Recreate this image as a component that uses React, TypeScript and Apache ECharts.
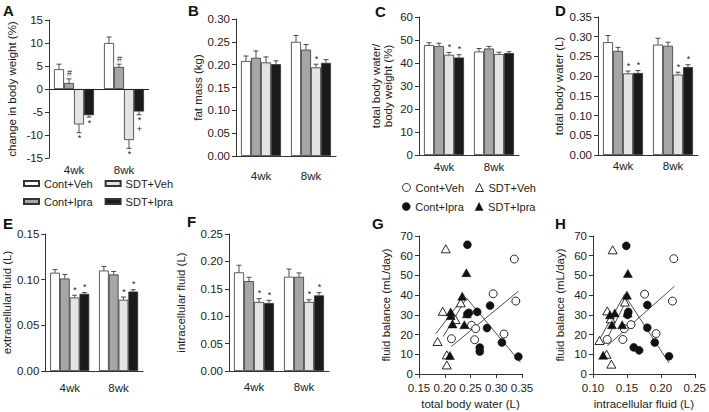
import React, { useEffect, useRef } from "react";
import * as echarts from "echarts";

const weeks = ["4wk", "8wk"];
const groupNames = ["Cont+Veh", "Cont+Ipra", "SDT+Veh", "SDT+Ipra"];

// A: change in body weight (%)  [series][week]
const bwMean = [[4.3, 10.0], [1.3, 4.8], [-7.7, -11.1], [-5.7, -4.9]];
const bwSem = [[1.1, 1.3], [0.9, 0.6], [1.8, 1.8], [0.4, 0.7]];
const bwSig = [["", ""], ["#", "#"], ["*", "*"], ["*", "*\n+"]];
// B: fat mass (kg)
const fatMean = [[0.208, 0.25], [0.215, 0.233], [0.205, 0.194], [0.201, 0.204]];
const fatSem = [[0.011, 0.014], [0.015, 0.011], [0.012, 0.007], [0.0075, 0.007]];
const fatSig = [["", ""], ["", ""], ["", "*"], ["", ""]];
// C: total body water / body weight (%)
const tbwPctMean = [[47.8, 45.0], [47.4, 46.3], [43.6, 43.9], [42.4, 44.3]];
const tbwPctSem = [[1.0, 1.3], [1.2, 0.9], [1.0, 0.8], [1.2, 0.6]];
const tbwPctSig = [["", ""], ["", ""], ["*", ""], ["*", ""]];
// D: total body water (L)
const tbwMean = [[0.286, 0.28], [0.264, 0.277], [0.207, 0.204], [0.208, 0.223]];
const tbwSem = [[0.017, 0.016], [0.009, 0.009], [0.006, 0.006], [0.006, 0.006]];
const tbwSig = [["", ""], ["", ""], ["*", "*"], ["*", "*"]];
// E: extracellular fluid (L)
const ecfMean = [[0.1076, 0.11], [0.1013, 0.1057], [0.0805, 0.078], [0.0845, 0.087]];
const ecfSem = [[0.0036, 0.0045], [0.0044, 0.0033], [0.0025, 0.003], [0.0015, 0.002]];
const ecfSig = [["", ""], ["", ""], ["*", "*"], ["*", "*"]];
// F: intracellular fluid (L)
const icfMean = [[0.18, 0.172], [0.164, 0.172], [0.126, 0.126], [0.124, 0.138]];
const icfSem = [[0.013, 0.014], [0.007, 0.007], [0.006, 0.004], [0.005, 0.005]];
const icfSig = [["", ""], ["", ""], ["*", "*"], ["*", "*"]];

// G: total body water (L) vs fluid balance (mL/day)
const gContVeh = [[0.335, 58.3], [0.338, 37], [0.294, 40.7], [0.252, 24.7], [0.26, 23], [0.258, 17.4], [0.213, 17.9], [0.315, 20.3]];
const gContIpra = [[0.244, 65.6], [0.247, 31], [0.244, 30.5], [0.263, 31.5], [0.288, 34.7], [0.282, 23.3], [0.268, 13.4], [0.268, 11.4], [0.311, 16], [0.343, 8.8]];
const gSdtVeh = [[0.202, 63.5], [0.186, 16.5], [0.196, 31.8], [0.204, 9.7], [0.204, 4.6], [0.221, 27.6], [0.231, 36.1]];
const gSdtIpra = [[0.2115, 31.5], [0.2115, 29.6], [0.215, 25.4], [0.21, 9.4], [0.234, 39.5], [0.242, 51.4], [0.238, 25], [0.243, 30.5]];
const gFitContVeh = [[0.213, 14], [0.343, 42]];
const gFitContIpra = [[0.242, 38.6], [0.347, 5.9]];
const gFitSdtVeh = [[0.183, 20.5], [0.232, 37.5]];
const gFitSdtIpra = [[0.197, 19], [0.241, 38]];

// H: intracellular fluid (L) vs fluid balance (mL/day)
const hContVeh = [[0.219, 58.5], [0.217, 37], [0.176, 40.5], [0.156, 25], [0.146, 23], [0.144, 17.5], [0.121, 17.5], [0.193, 20.5]];
const hContIpra = [[0.149, 65], [0.152, 31.5], [0.151, 30], [0.18, 35], [0.18, 23.5], [0.16, 13.5], [0.168, 12], [0.191, 16], [0.212, 9]];
const hSdtVeh = [[0.129, 63], [0.1095, 17], [0.121, 32], [0.12, 10], [0.127, 5], [0.126, 28], [0.147, 36.5]];
const hSdtIpra = [[0.125, 30], [0.132, 31], [0.128, 25], [0.115, 9.5], [0.15, 40], [0.1514, 51], [0.143, 25], [0.151, 31]];
const hFitContVeh = [[0.121, 14.3], [0.22, 44.5]];
const hFitContIpra = [[0.149, 38.8], [0.212, 5.6]];
const hFitSdtVeh = [[0.1086, 16.9], [0.1467, 40.5]];
const hFitSdtIpra = [[0.1167, 15.2], [0.1514, 38.8]];

const FONT = "'Liberation Sans', Arial, Helvetica, sans-serif";
const TXT = "#222";
const AX = "#333";
const barColors = ["#ffffff", "#a6a6a6", "#e3e3e3", "#1a1a1a"];

const barPanels = [
  { mean: bwMean, sem: bwSem, sig: bwSig, min: -15, max: 15, interval: 5, dec: 0, name: "change in body weight (%)", left: 49, top: 20, height: 138, nameGap: 31, catMargin: 6, axisLine: false, zero: true },
  { mean: fatMean, sem: fatSem, sig: fatSig, min: 0, max: 0.3, interval: 0.05, dec: 2, name: "fat mass (kg)", left: 236, top: 19, height: 137, nameGap: 30, catMargin: 14, axisLine: true, zero: false },
  { mean: tbwPctMean, sem: tbwPctSem, sig: tbwPctSig, min: 0, max: 60, interval: 10, dec: 0, name: "total body water/\nbody weight (%)", left: 419, top: 17, height: 138, nameGap: 25, catMargin: 6, axisLine: true, zero: false },
  { mean: tbwMean, sem: tbwSem, sig: tbwSig, min: 0, max: 0.35, interval: 0.05, dec: 2, name: "total body water (L)", left: 598, top: 17, height: 138, nameGap: 33, catMargin: 5, axisLine: true, zero: false },
  { mean: ecfMean, sem: ecfSem, sig: ecfSig, min: 0, max: 0.15, interval: 0.05, dec: 2, name: "extracellular fluid (L)", left: 43, top: 234, height: 137, nameGap: 31, catMargin: 11, axisLine: true, zero: false },
  { mean: icfMean, sem: icfSem, sig: icfSig, min: 0, max: 0.25, interval: 0.05, dec: 2, name: "intracellular fluid (L)", left: 229, top: 234, height: 137, nameGap: 42, catMargin: 10, axisLine: true, zero: false },
];

const scatterPanels = [
  { pts: [gContVeh, gContIpra, gSdtVeh, gSdtIpra], fits: [gFitContVeh, gFitContIpra, gFitSdtVeh, gFitSdtIpra], xmin: 0.15, xmax: 0.35, xname: "total body water (L)", left: 419, top: 236, width: 103, height: 138 },
  { pts: [hContVeh, hContIpra, hSdtVeh, hSdtIpra], fits: [hFitContVeh, hFitContIpra, hFitSdtVeh, hFitSdtIpra], xmin: 0.1, xmax: 0.25, xname: "intracellular fluid (L)", left: 593, top: 236, width: 105, height: 138 },
];

const scatterStyles = [
  { symbol: "circle", symbolSize: 8, itemStyle: { color: "#fff", borderColor: "#111", borderWidth: 0.9, opacity: 1 } },
  { symbol: "circle", symbolSize: 8, itemStyle: { color: "#111", borderColor: "#111", borderWidth: 0.5, opacity: 1 } },
  { symbol: "triangle", symbolSize: [9, 8], itemStyle: { color: "#fff", borderColor: "#111", borderWidth: 0.9, opacity: 1 } },
  { symbol: "triangle", symbolSize: [9, 8], itemStyle: { color: "#111", borderColor: "#111", borderWidth: 0.5, opacity: 1 } },
];

const makeErr = (sig: string[][]) => (params: any, api: any) => {
  const cat = api.value(0);
  const s = api.value(1);
  const mean = api.value(2);
  const end = api.value(3);
  const band = api.size([1, 0])[0];
  const off = (-0.3 + 0.2 * s) * band;
  const p0 = api.coord([cat, mean]);
  const p1 = api.coord([cat, end]);
  const x = p0[0] + off;
  const up = end >= mean;
  const ls = { stroke: "#222", lineWidth: 0.8 };
  const children: any[] = [
    { type: "line", shape: { x1: x, y1: p0[1], x2: x, y2: p1[1] }, style: ls },
    { type: "line", shape: { x1: x - 2.5, y1: p1[1], x2: x + 2.5, y2: p1[1] }, style: ls },
  ];
  const m = sig[s][cat];
  if (m) {
    children.push({
      type: "text",
      style: {
        text: m,
        x: x + 0.5,
        y: up ? p1[1] - 1 : p1[1] + 1,
        align: "center",
        verticalAlign: up ? "bottom" : "top",
        fontSize: 9,
        lineHeight: 9,
        fontFamily: FONT,
        fill: "#222",
      },
    });
  }
  return { type: "group", children };
};

function buildOption() {
  const grid: any[] = [];
  const xAxis: any[] = [];
  const yAxis: any[] = [];
  const series: any[] = [];
  const lineStyle = { color: AX, width: 1 };
  const labelStyle = { color: TXT, fontSize: 11.5, fontFamily: FONT };

  barPanels.forEach((p, i) => {
    grid.push({ left: p.left, top: p.top, width: 100, height: p.height });
    xAxis.push({
      type: "category",
      gridIndex: i,
      data: weeks,
      axisLine: { show: p.axisLine, onZero: false, lineStyle },
      axisTick: { show: false },
      axisLabel: { ...labelStyle, margin: p.catMargin },
    });
    yAxis.push({
      type: "value",
      gridIndex: i,
      min: p.min,
      max: p.max,
      interval: p.interval,
      name: p.name,
      nameLocation: "middle",
      nameGap: p.nameGap,
      nameTextStyle: { ...labelStyle, lineHeight: 12 },
      axisLine: { show: true, lineStyle },
      axisTick: { show: true, length: 4, lineStyle },
      splitLine: { show: false },
      axisLabel: { ...labelStyle, margin: 6, formatter: (v: number) => v.toFixed(p.dec) },
    });
    p.mean.forEach((vals, s) => {
      const ser: any = {
        type: "bar",
        name: groupNames[s],
        xAxisIndex: i,
        yAxisIndex: i,
        data: vals,
        barGap: "0%",
        barCategoryGap: "20%",
        itemStyle: { color: barColors[s], borderColor: "#333", borderWidth: 0.8 },
        silent: true,
      };
      if (p.zero && s === 0) {
        ser.markLine = {
          silent: true,
          symbol: ["none", "none"],
          label: { show: false },
          lineStyle: { color: "#222", width: 1, type: "solid" },
          data: [{ yAxis: 0 }],
        };
      }
      series.push(ser);
    });
    const errData: number[][] = [];
    p.mean.forEach((vals, s) =>
      vals.forEach((v, c) => {
        const sign = v >= 0 ? 1 : -1;
        errData.push([c, s, v, v + sign * p.sem[s][c]]);
      })
    );
    series.push({
      type: "custom",
      xAxisIndex: i,
      yAxisIndex: i,
      data: errData,
      renderItem: makeErr(p.sig),
      encode: { x: 0, y: [2, 3] },
      z: 5,
      clip: false,
      silent: true,
    });
  });

  scatterPanels.forEach((p, j) => {
    const i = barPanels.length + j;
    grid.push({ left: p.left, top: p.top, width: p.width, height: p.height });
    xAxis.push({
      type: "value",
      gridIndex: i,
      min: p.xmin,
      max: p.xmax,
      interval: 0.05,
      name: p.xname,
      nameLocation: "middle",
      nameGap: 24,
      nameTextStyle: labelStyle,
      axisLine: { show: true, onZero: false, lineStyle },
      axisTick: { show: true, length: 4, lineStyle },
      splitLine: { show: false },
      axisLabel: { ...labelStyle, margin: 8, formatter: (v: number) => v.toFixed(2) },
    });
    yAxis.push({
      type: "value",
      gridIndex: i,
      min: 0,
      max: 70,
      interval: 10,
      name: "fluid balance (mL/day)",
      nameLocation: "middle",
      nameGap: 27,
      nameTextStyle: labelStyle,
      axisLine: { show: true, onZero: false, lineStyle },
      axisTick: { show: true, length: 4, lineStyle },
      splitLine: { show: false },
      axisLabel: { ...labelStyle, margin: 6 },
    });
    p.fits.forEach((f) =>
      series.push({
        type: "line",
        xAxisIndex: i,
        yAxisIndex: i,
        data: f,
        symbol: "none",
        lineStyle: { color: "#222", width: 0.8 },
        silent: true,
        z: 1,
      })
    );
    p.pts.forEach((pts, s) =>
      series.push({
        type: "scatter",
        name: groupNames[s],
        xAxisIndex: i,
        yAxisIndex: i,
        data: pts,
        silent: true,
        z: 3,
        ...scatterStyles[s],
      })
    );
  });

  const legTxt = { color: TXT, fontSize: 11, fontFamily: FONT };
  const barLeg = (names: string[], top: number) => ({
    left: 23,
    top,
    padding: 0,
    itemWidth: 15,
    itemHeight: 5,
    itemGap: 12,
    icon: "rect",
    selectedMode: false,
    textStyle: legTxt,
    data: names,
  });
  const sctLeg = (idx: number[], top: number) => ({
    left: 402,
    top,
    padding: 0,
    itemWidth: 8,
    itemHeight: 8,
    itemGap: 11,
    selectedMode: false,
    textStyle: legTxt,
    data: idx.map((s) => ({
      name: groupNames[s],
      icon: scatterStyles[s].symbol,
      itemStyle: scatterStyles[s].itemStyle,
    })),
  });

  const letter = (t: string, x: number, y: number) => ({
    type: "text",
    left: x,
    top: y,
    style: { text: t, fontSize: 15, fontWeight: "bold", fontFamily: FONT, fill: "#111" },
  });

  return {
    animation: false,
    backgroundColor: "#ffffff",
    grid,
    xAxis,
    yAxis,
    series,
    legend: [
      barLeg(["Cont+Veh", "SDT+Veh"], 178),
      barLeg(["Cont+Ipra", "SDT+Ipra"], 196),
      sctLeg([0, 2], 182),
      sctLeg([1, 3], 201),
    ],
    graphic: [
      letter("A", 3, 3),
      letter("B", 188, 3),
      letter("C", 375, 4),
      letter("D", 555, 3),
      letter("E", 3, 216),
      letter("F", 187, 214),
      letter("G", 372, 216),
      letter("H", 555, 216),
    ],
  };
}

export default function App() {
  const ref = useRef<HTMLDivElement>(null);
  useEffect(() => {
    if (!ref.current) return;
    const chart = echarts.init(ref.current, undefined, { renderer: "svg" });
    chart.setOption(buildOption() as any);
    return () => chart.dispose();
  }, []);
  return (
    <div
      ref={ref}
      style={{ position: "fixed", left: 0, top: 0, width: 709, height: 412, background: "#fff" }}
    />
  );
}
